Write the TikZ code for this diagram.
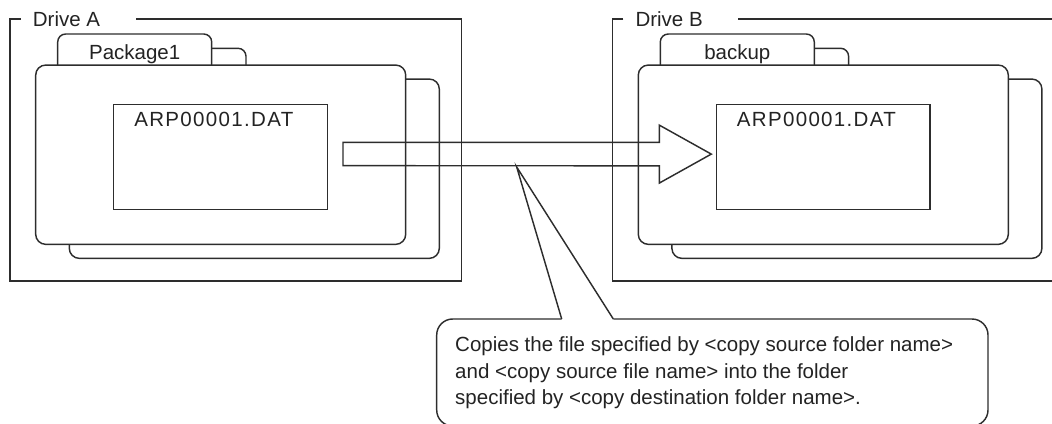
\documentclass[tikz,border=0pt]{standalone}
\usepackage{fontspec}
\setmainfont{Liberation Sans}
\newfontfamily\datfont[LetterSpace=6.5]{Liberation Sans}
\usepackage{tikz}
\usetikzlibrary{calc,positioning}
\definecolor{lineGray}{RGB}{45,45,45}
\definecolor{textGray}{RGB}{35,35,35}

\begin{document}
\begin{tikzpicture}[x=1pt,y=-1pt,
          ln/.style={draw=lineGray,line width=1.45pt},
          folder/.style={ln,fill=white,rounded corners=10pt,
                         minimum width=370pt,minimum height=179.3pt,inner sep=0pt},
          filebox/.style={ln,fill=white,minimum width=213.6pt,
                          minimum height=105pt,inner sep=0pt},
          lbl/.style={font=\fontsize{20.5}{24}\selectfont,text=textGray,inner sep=0pt},
        ]
        \useasboundingbox (0,0) rectangle (1052,423);
        % the two drives
        \foreach \n/\dx/\pkg in {A/0/Package1,B/602.6/backup}{
          \begin{scope}[xshift=\dx pt]
            \node[folder] (back\n) at (254.3,168.7){};
            \draw[ln,fill=white,rounded corners=8pt] (211.7,48.3) -- (246,48.3) -- (246,65);
            \draw[ln,fill=white,rounded corners=8pt] (57.7,65) |- (211.7,34) -- (211.7,65);
            \node[lbl,anchor=base] (pkg\n) at (134.7,59.3){\pkg};
            \node[folder] (front\n) at ($(back\n)+(-33.6,-14)$){};
            \node[filebox] (file\n) at ($(front\n)+(-0.2,2.2)$){};
            \node[lbl,anchor=base] (dat\n) at ($(file\n.north)+(-6.7,22.4)$){\datfont ARP00001.DAT};
            \node[lbl,anchor=base west] (drive\n) at (32.7,26){Drive \n};
          \end{scope}
        }
        \draw[ln] (20.7,19) -- (10,19) -- (10,281) -- (461.7,281) -- (461.7,19) -- (136,19);
        \draw[ln] (623.3,19) -- (612.7,19) -- (612.7,281) -- (1070,281);
        \draw[ln] (738.3,19) -- (1070,19);
        % copy arrow
        \coordinate (tail) at (343,154);
        \coordinate (tip)  at ($(fileB.west)+(-4.3,-2.8)$);
        \draw[ln] ($(tail)+(0,-11.7)$) -- ($(tip)+(-52,-11.7)$) -- ($(tip)+(-52,-29)$)
              -- (tip) -- ($(tip)+(-52,29)$) -- ($(tip)+(-52,11.7)$)
              -- ($(tail)+(0,11.7)$) -- cycle;
        % callout
        \coordinate (ptr) at (516.7,167);
        \draw[ln,rounded corners=16pt] (561.7,319) -- (436.7,319) -- (436.7,426)
              -- (988,426) -- (988,319) -- (613.3,319);
        \draw[ln,line join=miter] (561.7,319) -- (ptr) -- (613.3,319);
        \node[lbl,anchor=north west,align=left,
              font=\fontsize{20.5}{26.5}\selectfont] (note) at (455,336.5)
          {Copies the file specified by <copy source folder name>\\
           and <copy source file name> into the folder\\
           specified by <copy destination folder name>.};
      \end{tikzpicture}
\end{document}
